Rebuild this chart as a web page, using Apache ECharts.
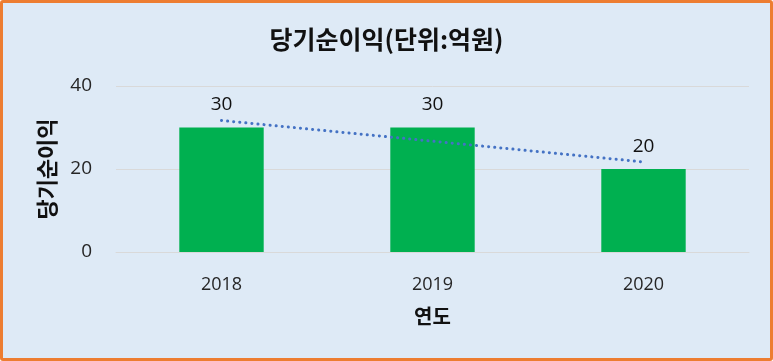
<!DOCTYPE html>
<html>
<head>
<meta charset="utf-8">
<script src="https://cdn.jsdelivr.net/npm/echarts@6/dist/echarts.min.js"></script>
<style>
  html, body { margin: 0; padding: 0; }
  #frame {
    width: 773px; height: 361px; box-sizing: border-box;
    border: 3px solid #ed7d31; border-radius: 3px;
    background: #deeaf6;
  }
  #main { width: 767px; height: 355px; }
</style>
</head>
<body>
<div id="frame"><div id="main"></div></div>
<script>
var years = ['2018', '2019', '2020'];
var profit = [30, 30, 20];
var trend = [31.7, 26.7, 21.7];
var yTicks = [0, 20, 40];

var chart = echarts.init(document.getElementById('main'));
var numFont = '"Open Sans", "Noto Sans", sans-serif';
var krFont = '"Noto Sans CJK KR", sans-serif';

option = {
    backgroundColor: 'transparent',
    title: {
        text: '당기순이익(단위:억원)',
        left: 'center',
        top: 19,
        textStyle: { fontFamily: krFont, fontSize: 25, fontWeight: 'bold', color: '#111' }
    },
    grid: { left: 113, right: 21, top: 83, bottom: 106 },
    xAxis: {
        type: 'category',
        data: years,
        name: '연도',
        nameLocation: 'middle',
        nameGap: 54,
        nameTextStyle: { fontFamily: krFont, fontSize: 20, fontWeight: 'bold', color: '#111' },
        axisLine: { lineStyle: { color: '#d9d9d9', width: 1 } },
        axisTick: { show: false },
        axisLabel: { margin: 24, fontFamily: numFont, fontSize: 18, color: '#262626' }
    },
    yAxis: {
        type: 'value',
        min: yTicks[0],
        max: yTicks[yTicks.length - 1],
        interval: 20,
        name: '당기순이익',
        nameLocation: 'middle',
        nameGap: 58,
        nameRotate: 90,
        nameTextStyle: { fontFamily: krFont, fontSize: 22, fontWeight: 'bold', color: '#111' },
        axisLine: { show: false },
        axisTick: { show: false },
        splitLine: { lineStyle: { color: '#d9d9d9', width: 1 } },
        axisLabel: { margin: 24, fontFamily: numFont, fontSize: 19, color: '#262626' }
    },
    series: [
        {
            type: 'bar',
            data: profit,
            barWidth: '40%',
            itemStyle: { color: '#00b050' },
            label: {
                show: true,
                position: 'top',
                distance: 13,
                fontFamily: numFont,
                fontSize: 19,
                color: '#111'
            }
        },
        {
            type: 'line',
            data: trend,
            symbol: 'none',
            silent: true,
            lineStyle: { color: '#4472c4', width: 3, type: [0.1, 6], cap: 'round' },
            z: 5
        }
    ]
};

chart.setOption(option);
</script>
</body>
</html>
